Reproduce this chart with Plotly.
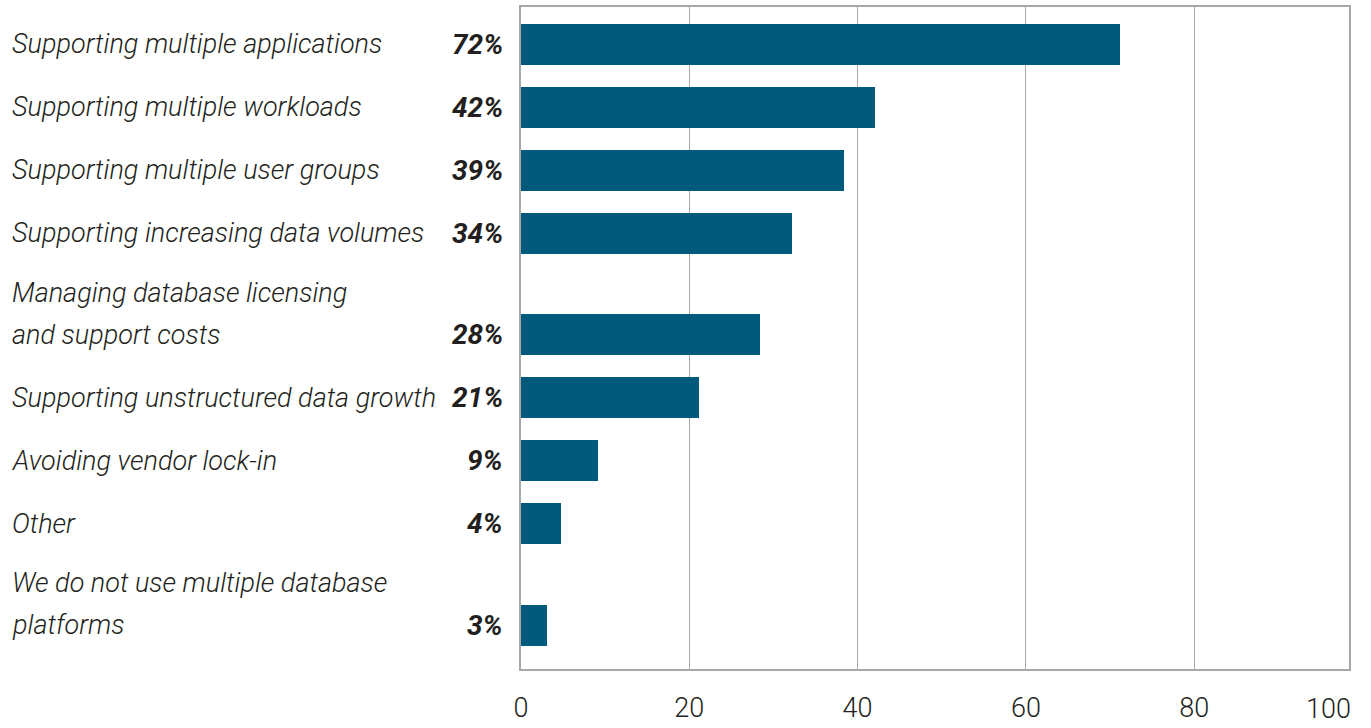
import plotly.graph_objects as go

# ---- data ----
categories = [
    "Supporting multiple applications",
    "Supporting multiple workloads",
    "Supporting multiple user groups",
    "Supporting increasing data volumes",
    "Managing database licensing<br>and support costs",
    "Supporting unstructured data growth",
    "Avoiding vendor lock-in",
    "Other",
    "We do not use multiple database<br>platforms",
]
bar_values = [71.2, 42.1, 38.4, 32.2, 28.4, 21.1, 9.2, 4.8, 3.1]
pct_labels = ["72%", "42%", "39%", "34%", "28%", "21%", "9%", "4%", "3%"]
x_tickvals = [0, 20, 40, 60, 80]
x_ticktext = ["0", "20", "40", "60", "80"]
last_tick_label = "100"

# ---- style ----
W, H = 1371, 728
BAR_COLOR = "#005a7c"
TEXT_COLOR = "#231f20"
GRID_COLOR = "#a8a8a8"
FONT = "Roboto, Liberation Sans, sans-serif"
FS_LABEL = 27
FS_PCT = 28
FS_TICK = 27
LINE_GAP_PX = 42
EXTRA_LINE_GAP = 0.61

# slot positions derived from number of label lines
positions = []
p = 0.0
for i, c in enumerate(categories):
    n_lines = c.count("<br>") + 1
    if i > 0:
        p += 1.0 + EXTRA_LINE_GAP * (n_lines - 1)
    positions.append(p)

fig = go.Figure(
    go.Bar(
        x=bar_values,
        y=positions,
        orientation="h",
        width=0.65,
        marker=dict(color=BAR_COLOR, line=dict(width=0)),
        hoverinfo="skip",
    )
)

annotations = []
for c, pos, lab in zip(categories, positions, pct_labels):
    lines = c.split("<br>")
    n = len(lines)
    for k, line in enumerate(lines):
        annotations.append(dict(
            xref="paper", yref="y", x=0, y=pos, xanchor="left", yanchor="middle",
            xshift=-511, yshift=(n - 1 - k) * LINE_GAP_PX,
            text=line, showarrow=False, align="left",
            font=dict(family=FONT, size=FS_LABEL, color=TEXT_COLOR,
                      style="italic", weight=300),
        ))
    annotations.append(dict(
        xref="x", yref="y", x=0, y=pos, xanchor="right", yanchor="middle",
        xshift=-16, text=lab, showarrow=False,
        font=dict(family=FONT, size=FS_PCT, color=TEXT_COLOR,
                  style="italic", weight=700),
    ))
annotations.append(dict(
    xref="paper", yref="paper", x=1, y=0, xanchor="right", yanchor="middle",
    xshift=4, yshift=-40, text=last_tick_label, showarrow=False,
    font=dict(family=FONT, size=FS_TICK, color=TEXT_COLOR, weight=300),
))

fig.update_layout(
    template="none",
    width=W, height=H,
    autosize=False,
    margin=dict(l=521, r=22, t=7, b=59, pad=0, autoexpand=False),
    paper_bgcolor="white", plot_bgcolor="white",
    showlegend=False,
    bargap=0,
    annotations=annotations,
    font=dict(family=FONT, size=FS_TICK, color=TEXT_COLOR),
)
fig.update_xaxes(
    range=[0, 98.4], tickvals=x_tickvals, ticktext=x_ticktext,
    showgrid=True, gridcolor=GRID_COLOR, gridwidth=1.2,
    showline=True, mirror=True, linecolor=GRID_COLOR, linewidth=2,
    zeroline=False, ticks="", ticklabelstandoff=14, automargin=False,
    tickfont=dict(family=FONT, size=FS_TICK, color=TEXT_COLOR, weight=300),
)
fig.update_yaxes(
    range=[9.913, -0.595], showticklabels=False, showgrid=False,
    showline=True, mirror=True, linecolor=GRID_COLOR, linewidth=2,
    zeroline=False, ticks="", automargin=False,
)

fig.write_html(
    "out.html",
    config={"displayModeBar": False},
    post_script="document.body.style.margin='0';",
)
